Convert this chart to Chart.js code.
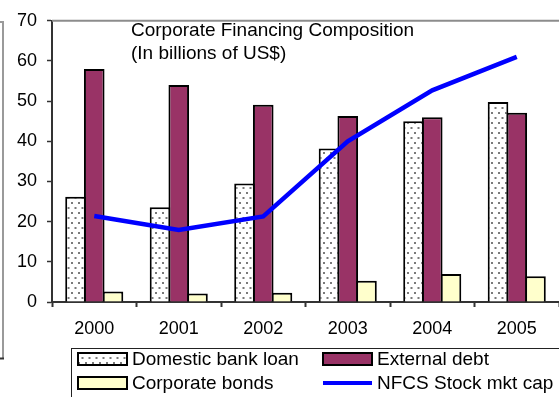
<!DOCTYPE html>
<html>
<head>
<meta charset="utf-8">
<script src="https://cdn.jsdelivr.net/npm/chart.js@4"></script>
<style>
  html, body { margin: 0; padding: 0; background: #fff; }
  canvas { display: block; }
</style>
</head>
<body>
<canvas id="financingChart" width="559" height="397"></canvas>
<script>
// Datos (miles de millones de US$)
const years = ['2000', '2001', '2002', '2003', '2004', '2005'];
const domesticBankLoan = [26.2, 23.6, 29.5, 38.2, 45.0, 49.8];
const externalDebt = [58.0, 54.0, 49.1, 46.3, 46.0, 47.1];
const corporateBonds = [2.6, 2.1, 2.3, 5.3, 7.0, 6.4];
const stockMktCap = [21.4, 17.9, 21.3, 40.0, 52.7, 61.0];
const titleLines = ['Corporate Financing Composition', '(In billions of US$)'];

const FONT = '"Liberation Sans", Arial, sans-serif';

// Trama punteada para los préstamos bancarios
function dotPattern() {
    const tile = document.createElement('canvas');
    tile.width = 7;
    tile.height = 10;
    const c = tile.getContext('2d');
    c.fillStyle = '#ffffff';
    c.fillRect(0, 0, 7, 10);
    c.fillStyle = '#7a7a7a';
    c.fillRect(1, 2, 2, 2);
    c.fillRect(4.5, 7, 2, 2);
    return c.createPattern(tile, 'repeat');
}

const ctx = document.getElementById('financingChart').getContext('2d');
const dots = dotPattern();

// Marco, título y leyenda dibujados a mano
const decorPlugin = {
    id: 'decor',
    beforeDatasetsDraw(chart) {
        const { ctx, chartArea } = chart;
        ctx.save();
        // borde superior del área de trazado
        ctx.strokeStyle = '#8c8c8c';
        ctx.lineWidth = 2;
        ctx.beginPath();
        ctx.moveTo(chartArea.left, chartArea.top);
        ctx.lineTo(chartArea.right, chartArea.top);
        ctx.stroke();
        // resto del recuadro a la izquierda
        ctx.strokeStyle = '#9a9a9a';
        ctx.beginPath();
        ctx.moveTo(0, 22);
        ctx.lineTo(3, 22);
        ctx.lineTo(3, 358);
        ctx.stroke();
        ctx.strokeStyle = '#333';
        ctx.beginPath();
        ctx.moveTo(0, 358.5);
        ctx.lineTo(4, 358.5);
        ctx.stroke();
        ctx.restore();
    },
    afterDraw(chart) {
        const { ctx } = chart;
        ctx.save();
        ctx.fillStyle = '#000';
        ctx.font = '19px ' + FONT;
        ctx.textBaseline = 'middle';
        titleLines.forEach((t, i) => ctx.fillText(t, 131, 31 + i * 23));

        // leyenda
        ctx.strokeStyle = '#222';
        ctx.lineWidth = 1;
        ctx.strokeRect(71.5, 348.5, 520, 60);
        const ds = chart.data.datasets;
        const slots = [
            { d: ds[1], x: 78, y: 359 },
            { d: ds[2], x: 323, y: 359 },
            { d: ds[3], x: 78, y: 383 },
            { d: ds[0], x: 323, y: 383 }
        ];
        slots.forEach(s => {
            if (s.d.type === 'line') {
                ctx.strokeStyle = s.d.borderColor;
                ctx.lineWidth = 4;
                ctx.beginPath();
                ctx.moveTo(s.x, s.y);
                ctx.lineTo(s.x + 49, s.y);
                ctx.stroke();
            } else {
                ctx.fillStyle = s.d.backgroundColor;
                ctx.fillRect(s.x, s.y - 6, 49, 12);
                ctx.strokeStyle = '#000';
                ctx.lineWidth = 2;
                ctx.strokeRect(s.x, s.y - 6, 49, 12);
            }
            ctx.fillStyle = '#000';
            ctx.font = '19px ' + FONT;
            ctx.fillText(s.d.label, s.x + 54, s.y + 1);
        });
        ctx.restore();
    }
};

const chart = new Chart(ctx, {
    type: 'bar',
    data: {
        labels: years,
        datasets: [
            {
                type: 'line',
                label: 'NFCS Stock mkt cap',
                data: stockMktCap,
                borderColor: '#0000ff',
                borderWidth: 4.5,
                pointRadius: 0,
                tension: 0,
                order: 0
            },
            {
                label: 'Domestic bank loan',
                data: domesticBankLoan,
                backgroundColor: dots,
                borderColor: '#000',
                borderWidth: 2,
                order: 1
            },
            {
                label: 'External debt',
                data: externalDebt,
                backgroundColor: '#993366',
                borderColor: '#000',
                borderWidth: 2,
                order: 1
            },
            {
                label: 'Corporate bonds',
                data: corporateBonds,
                backgroundColor: '#ffffcc',
                borderColor: '#000',
                borderWidth: 2,
                order: 1
            }
        ]
    },
    options: {
        responsive: false,
        animation: false,
        devicePixelRatio: 1,
        layout: { padding: { top: 14, left: 0, right: 0, bottom: 0 } },
        datasets: {
            // barras contiguas, bordes compartidos
            bar: { categoryPercentage: 0.665, barPercentage: 1.1 }
        },
        plugins: {
            legend: { display: false },
            title: { display: false },
            tooltip: { enabled: false }
        },
        scales: {
            x: {
                afterFit: s => { s.height = 95; },
                grid: {
                    drawOnChartArea: false,
                    drawTicks: true,
                    tickLength: 5,
                    tickWidth: 2,
                    tickColor: '#333'
                },
                border: { color: '#333', width: 2 },
                ticks: {
                    color: '#000',
                    padding: 11,
                    font: { family: FONT, size: 18 }
                }
            },
            y: {
                min: 0,
                max: 70,
                afterFit: s => { s.width = 52; },
                grid: {
                    drawOnChartArea: false,
                    drawTicks: true,
                    tickLength: 5,
                    tickWidth: 1.5,
                    tickColor: '#333'
                },
                border: { color: '#333', width: 2 },
                ticks: {
                    stepSize: 10,
                    color: '#000',
                    padding: 10,
                    font: { family: FONT, size: 18 }
                }
            }
        }
    },
    plugins: [decorPlugin]
});
</script>
</body>
</html>
